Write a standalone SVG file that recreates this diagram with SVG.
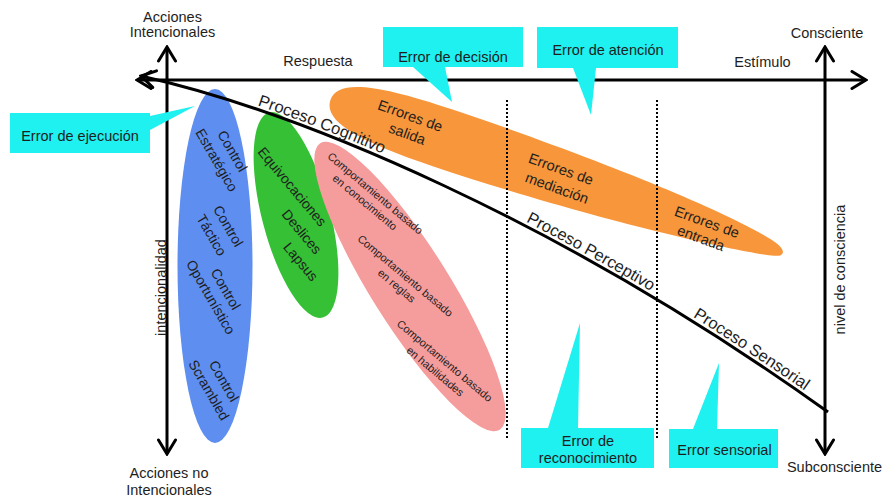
<svg xmlns="http://www.w3.org/2000/svg" width="883" height="498" viewBox="0 0 883 498">
<style>
text{font-family:"Liberation Sans",Arial,sans-serif;fill:#1e1e1e}
.lbl{font-size:14.5px}
.ctr{text-anchor:middle}
.in{font-size:14px;text-anchor:middle}
.pk{font-size:11px;text-anchor:middle}
.pr{font-size:16.5px}
.ax{fill:none;stroke:#000;stroke-width:3}
.dot{fill:none;stroke:#000;stroke-width:2;stroke-dasharray:2 2}
.call{fill:#1ff0f0}
</style>
<defs>
<marker id="chev" viewBox="0 0 20 20" refX="18" refY="10" markerWidth="20" markerHeight="20" markerUnits="userSpaceOnUse" orient="auto-start-reverse">
<path d="M4,1.5 L18,10 L4,18.5" fill="none" stroke="#000" stroke-width="3" stroke-linecap="round"/>
</marker>
</defs>

<g id="ellipse-blue">
<ellipse cx="215" cy="266" rx="37.5" ry="177" fill="#5d8ef0"/>
<text class="in" transform="translate(232.5,151) rotate(60)" dy=".35em">Control</text>
<text class="in" transform="translate(216.7,160) rotate(60)" dy=".35em">Estratégico</text>
<text class="in" transform="translate(228.3,226) rotate(60)" dy=".35em">Control</text>
<text class="in" transform="translate(211.5,235) rotate(60)" dy=".35em">Táctico</text>
<text class="in" transform="translate(225.7,289) rotate(60)" dy=".35em">Control</text>
<text class="in" transform="translate(210.7,297) rotate(60)" dy=".35em">Oportunístico</text>
<text class="in" transform="translate(224,381) rotate(60)" dy=".35em">Control</text>
<text class="in" transform="translate(209,390) rotate(60)" dy=".35em">Scrambled</text>
</g>

<g id="ellipse-green">
<ellipse cx="296" cy="215" rx="34" ry="106" transform="rotate(-14.6 296 215)" fill="#35c035"/>
<text class="in" transform="translate(292.3,186.7) rotate(50)" dy=".35em">Equivocaciones</text>
<text class="in" transform="translate(301.7,231.7) rotate(50)" dy=".35em">Deslices</text>
<text class="in" transform="translate(300.7,261.7) rotate(50)" dy=".35em">Lapsus</text>
</g>

<g id="ellipse-pink">
<ellipse cx="410" cy="286.5" rx="39" ry="169" transform="rotate(-32.1 410 286.5)" fill="#f59c9c"/>
<text class="pk" transform="translate(375.3,193.3) rotate(40)" dy=".35em">Comportamiento basado</text>
<text class="pk" transform="translate(365,202.3) rotate(40)" dy=".35em">en conocimiento</text>
<text class="pk" transform="translate(405.3,275.7) rotate(40)" dy=".35em">Comportamiento basado</text>
<text class="pk" transform="translate(396.7,285.7) rotate(40)" dy=".35em">en reglas</text>
<text class="pk" transform="translate(444.7,360.7) rotate(40)" dy=".35em">Comportamiento basado</text>
<text class="pk" transform="translate(435.3,371.3) rotate(40)" dy=".35em">en habilidades</text>
</g>

<g id="ellipse-orange">
<path transform="translate(556,176) rotate(18.6)" fill="#f7963a" d="M-238,0 C-238,-22 -200,-30 -120,-30 C60,-30 200,-18 232,-6 C242,-2 242,4 232,6 C200,14 40,30 -120,30 C-200,30 -238,22 -238,0 Z"/>
<text class="lbl ctr" transform="translate(410.3,115.7) rotate(20)" dy=".35em">Errores de</text>
<text class="lbl ctr" transform="translate(407.3,133.7) rotate(20)" dy=".35em">salida</text>
<text class="lbl ctr" transform="translate(561,169) rotate(20)" dy=".35em">Errores de</text>
<text class="lbl ctr" transform="translate(557,188) rotate(20)" dy=".35em">mediación</text>
<text class="lbl ctr" transform="translate(707,222) rotate(20)" dy=".35em">Errores de</text>
<text class="lbl ctr" transform="translate(701,238) rotate(20)" dy=".35em">entrada</text>
</g>

<g id="connectors">
<line class="dot" x1="507" y1="100" x2="507" y2="440"/>
<line class="dot" x1="657" y1="100" x2="657" y2="439"/>
<line class="ax" x1="137" y1="80" x2="866" y2="80" marker-start="url(#chev)" marker-end="url(#chev)"/>
<line class="ax" x1="167" y1="454" x2="167" y2="47" marker-start="url(#chev)" marker-end="url(#chev)"/>
<line class="ax" x1="825" y1="454" x2="825" y2="47" marker-start="url(#chev)" marker-end="url(#chev)"/>
<path id="curve" class="ax" d="M141,76 C300,112 560,220 828,412" marker-start="url(#chev)"/>
</g>

<g id="curve-labels">
<text class="pr" dy="-4"><textPath href="#curve" startOffset="120">Proceso Cognitivo</textPath></text>
<text class="pr" dy="-4"><textPath href="#curve" startOffset="412">Proceso Perceptivo</textPath></text>
<text class="pr" dy="-4"><textPath href="#curve" startOffset="604">Proceso Sensorial</textPath></text>
</g>

<g id="axis-labels">
<text class="lbl ctr" x="172.5" y="22">Acciones</text>
<text class="lbl ctr" x="172.5" y="37">Intencionales</text>
<text class="lbl ctr" x="169" y="478">Acciones no</text>
<text class="lbl ctr" x="169" y="495">Intencionales</text>
<text class="lbl ctr" x="318" y="66">Respuesta</text>
<text class="lbl ctr" x="762.5" y="67">Estímulo</text>
<text class="lbl ctr" x="827" y="38">Consciente</text>
<text class="lbl ctr" x="834.5" y="472">Subconsciente</text>
<text class="lbl ctr" transform="translate(165.5,287.5) rotate(-90)">intencionalidad</text>
<text class="lbl ctr" transform="translate(845,269.5) rotate(-90)">nivel de consciencia</text>
</g>

<g id="callout-decision">
<path class="call" d="M383,27 H523 V67 H445 L452,102 L413,67 H383 Z"/>
<text class="lbl ctr" x="453" y="62">Error de decisión</text>
</g>
<g id="callout-atencion">
<path class="call" d="M537,27 H678 V68 H596 L591,115 L573,68 H537 Z"/>
<text class="lbl ctr" x="608" y="55">Error de atención</text>
</g>
<g id="callout-ejecucion">
<path class="call" d="M10,113 H150 V116 L195,106 L150,130 V153 H10 Z"/>
<text class="lbl ctr" x="80" y="141">Error de ejecución</text>
</g>
<g id="callout-reconocimiento">
<path class="call" d="M521,428 H548 L580,323 L578,428 H654 V468 H521 Z"/>
<text class="lbl ctr" x="588" y="446">Error de</text>
<text class="lbl ctr" x="588" y="463">reconocimiento</text>
</g>
<g id="callout-sensorial">
<path class="call" d="M669,429 H693 L719,363 L717,429 H778 V468 H669 Z"/>
<text class="lbl ctr" x="724.5" y="455">Error sensorial</text>
</g>
</svg>
